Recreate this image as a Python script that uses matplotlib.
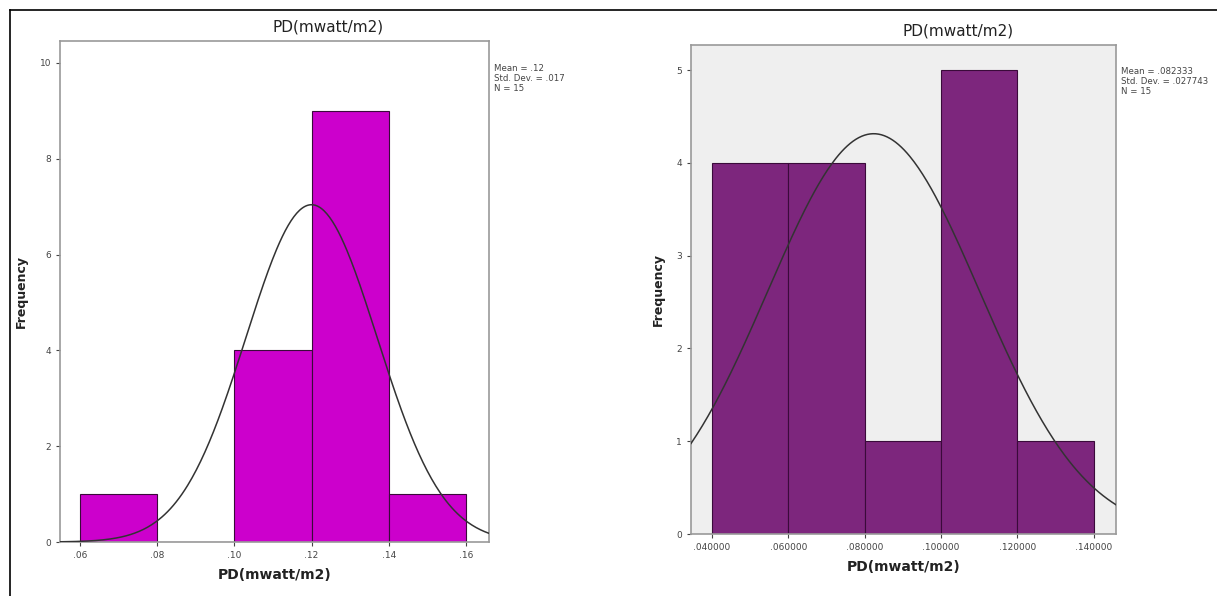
import numpy as np
import matplotlib.pyplot as plt
from matplotlib.lines import Line2D

# left histogram
left_edges = [0.06, 0.08, 0.10, 0.12, 0.14, 0.16]
left_counts = [1, 0, 4, 9, 1]
left_mean, left_sd, left_n = 0.12, 0.017, 15
left_ticks = [0.06, 0.08, 0.10, 0.12, 0.14, 0.16]
left_ticklabels = ['.06', '.08', '.10', '.12', '.14', '.16']
left_yticks = [0, 2, 4, 6, 8, 10]
left_stats = 'Mean = .12\nStd. Dev. = .017\nN = 15'

# right histogram
right_edges = [0.04, 0.06, 0.08, 0.10, 0.12, 0.14]
right_counts = [4, 4, 1, 5, 1]
right_mean, right_sd, right_n = 0.082333, 0.027743, 15
right_ticks = [0.04, 0.06, 0.08, 0.10, 0.12, 0.14]
right_ticklabels = ['.040000', '.060000', '.080000', '.100000', '.120000', '.140000']
right_yticks = [0, 1, 2, 3, 4, 5]
right_stats = 'Mean = .082333\nStd. Dev. = .027743\nN = 15'

title = 'PD(mwatt/m2)'


def draw(ax, edges, counts, mean, sd, n, xlim, ylim, ticks, ticklabels, yticks,
         stats, color, bg):
    edges = np.array(edges)
    widths = np.diff(edges)
    ax.bar(edges[:-1], counts, width=widths, align='edge', color=color,
           edgecolor='#3a0a3a', linewidth=0.8, zorder=2)
    xs = np.linspace(xlim[0], xlim[1], 300)
    bw = widths[0]
    ys = n * bw / (sd * np.sqrt(2 * np.pi)) * np.exp(-0.5 * ((xs - mean) / sd) ** 2)
    ax.plot(xs, ys, color='#333333', linewidth=1.1, zorder=3)
    ax.set_xlim(xlim)
    ax.set_ylim(ylim)
    ax.set_facecolor(bg)
    ax.set_xticks(ticks)
    ax.set_xticklabels(ticklabels)
    ax.set_yticks(yticks)
    ax.tick_params(labelsize=6.5, colors='#444444', length=3, width=0.8)
    for s in ax.spines.values():
        s.set_color('#999999')
        s.set_linewidth(1.2)
    ax.set_xlabel(title, fontsize=10, fontweight='bold', color='#222222', labelpad=6)
    ax.set_ylabel('Frequency', fontsize=9, fontweight='bold', color='#222222', labelpad=8)
    ax.text(1.012, 0.955, stats, transform=ax.transAxes, fontsize=6.2,
            color='#444444', va='top', ha='left', linespacing=1.15)


fig = plt.figure(figsize=(12.17, 5.96), dpi=100)
ax1 = fig.add_axes([0.0493, 0.0906, 0.3525, 0.840])
ax2 = fig.add_axes([0.5678, 0.104, 0.3492, 0.8205])

draw(ax1, left_edges, left_counts, left_mean, left_sd, left_n,
     (0.0548, 0.166), (0, 10.45), left_ticks, left_ticklabels, left_yticks,
     left_stats, '#cc00cc', 'white')
draw(ax2, right_edges, right_counts, right_mean, right_sd, right_n,
     (0.0345, 0.1458), (0, 5.27), right_ticks, right_ticklabels, right_yticks,
     right_stats, '#7d267d', '#efefef')

# chart titles sit centred over the whole chart area (plot + stats box)
fig.text(328 / 1217, 1 - 27 / 596, title, fontsize=11, color='#222222',
         ha='center', va='center')
fig.text(958 / 1217, 1 - 31 / 596, title, fontsize=11, color='#222222',
         ha='center', va='center')

# page border (cropped from a document)
fig.add_artist(Line2D([0.008, 0.008], [0, 0.984], transform=fig.transFigure,
                      color='black', linewidth=1.2))
fig.add_artist(Line2D([0.008, 1], [0.984, 0.984], transform=fig.transFigure,
                      color='black', linewidth=1.2))

fig.savefig('out.png', dpi=100)
